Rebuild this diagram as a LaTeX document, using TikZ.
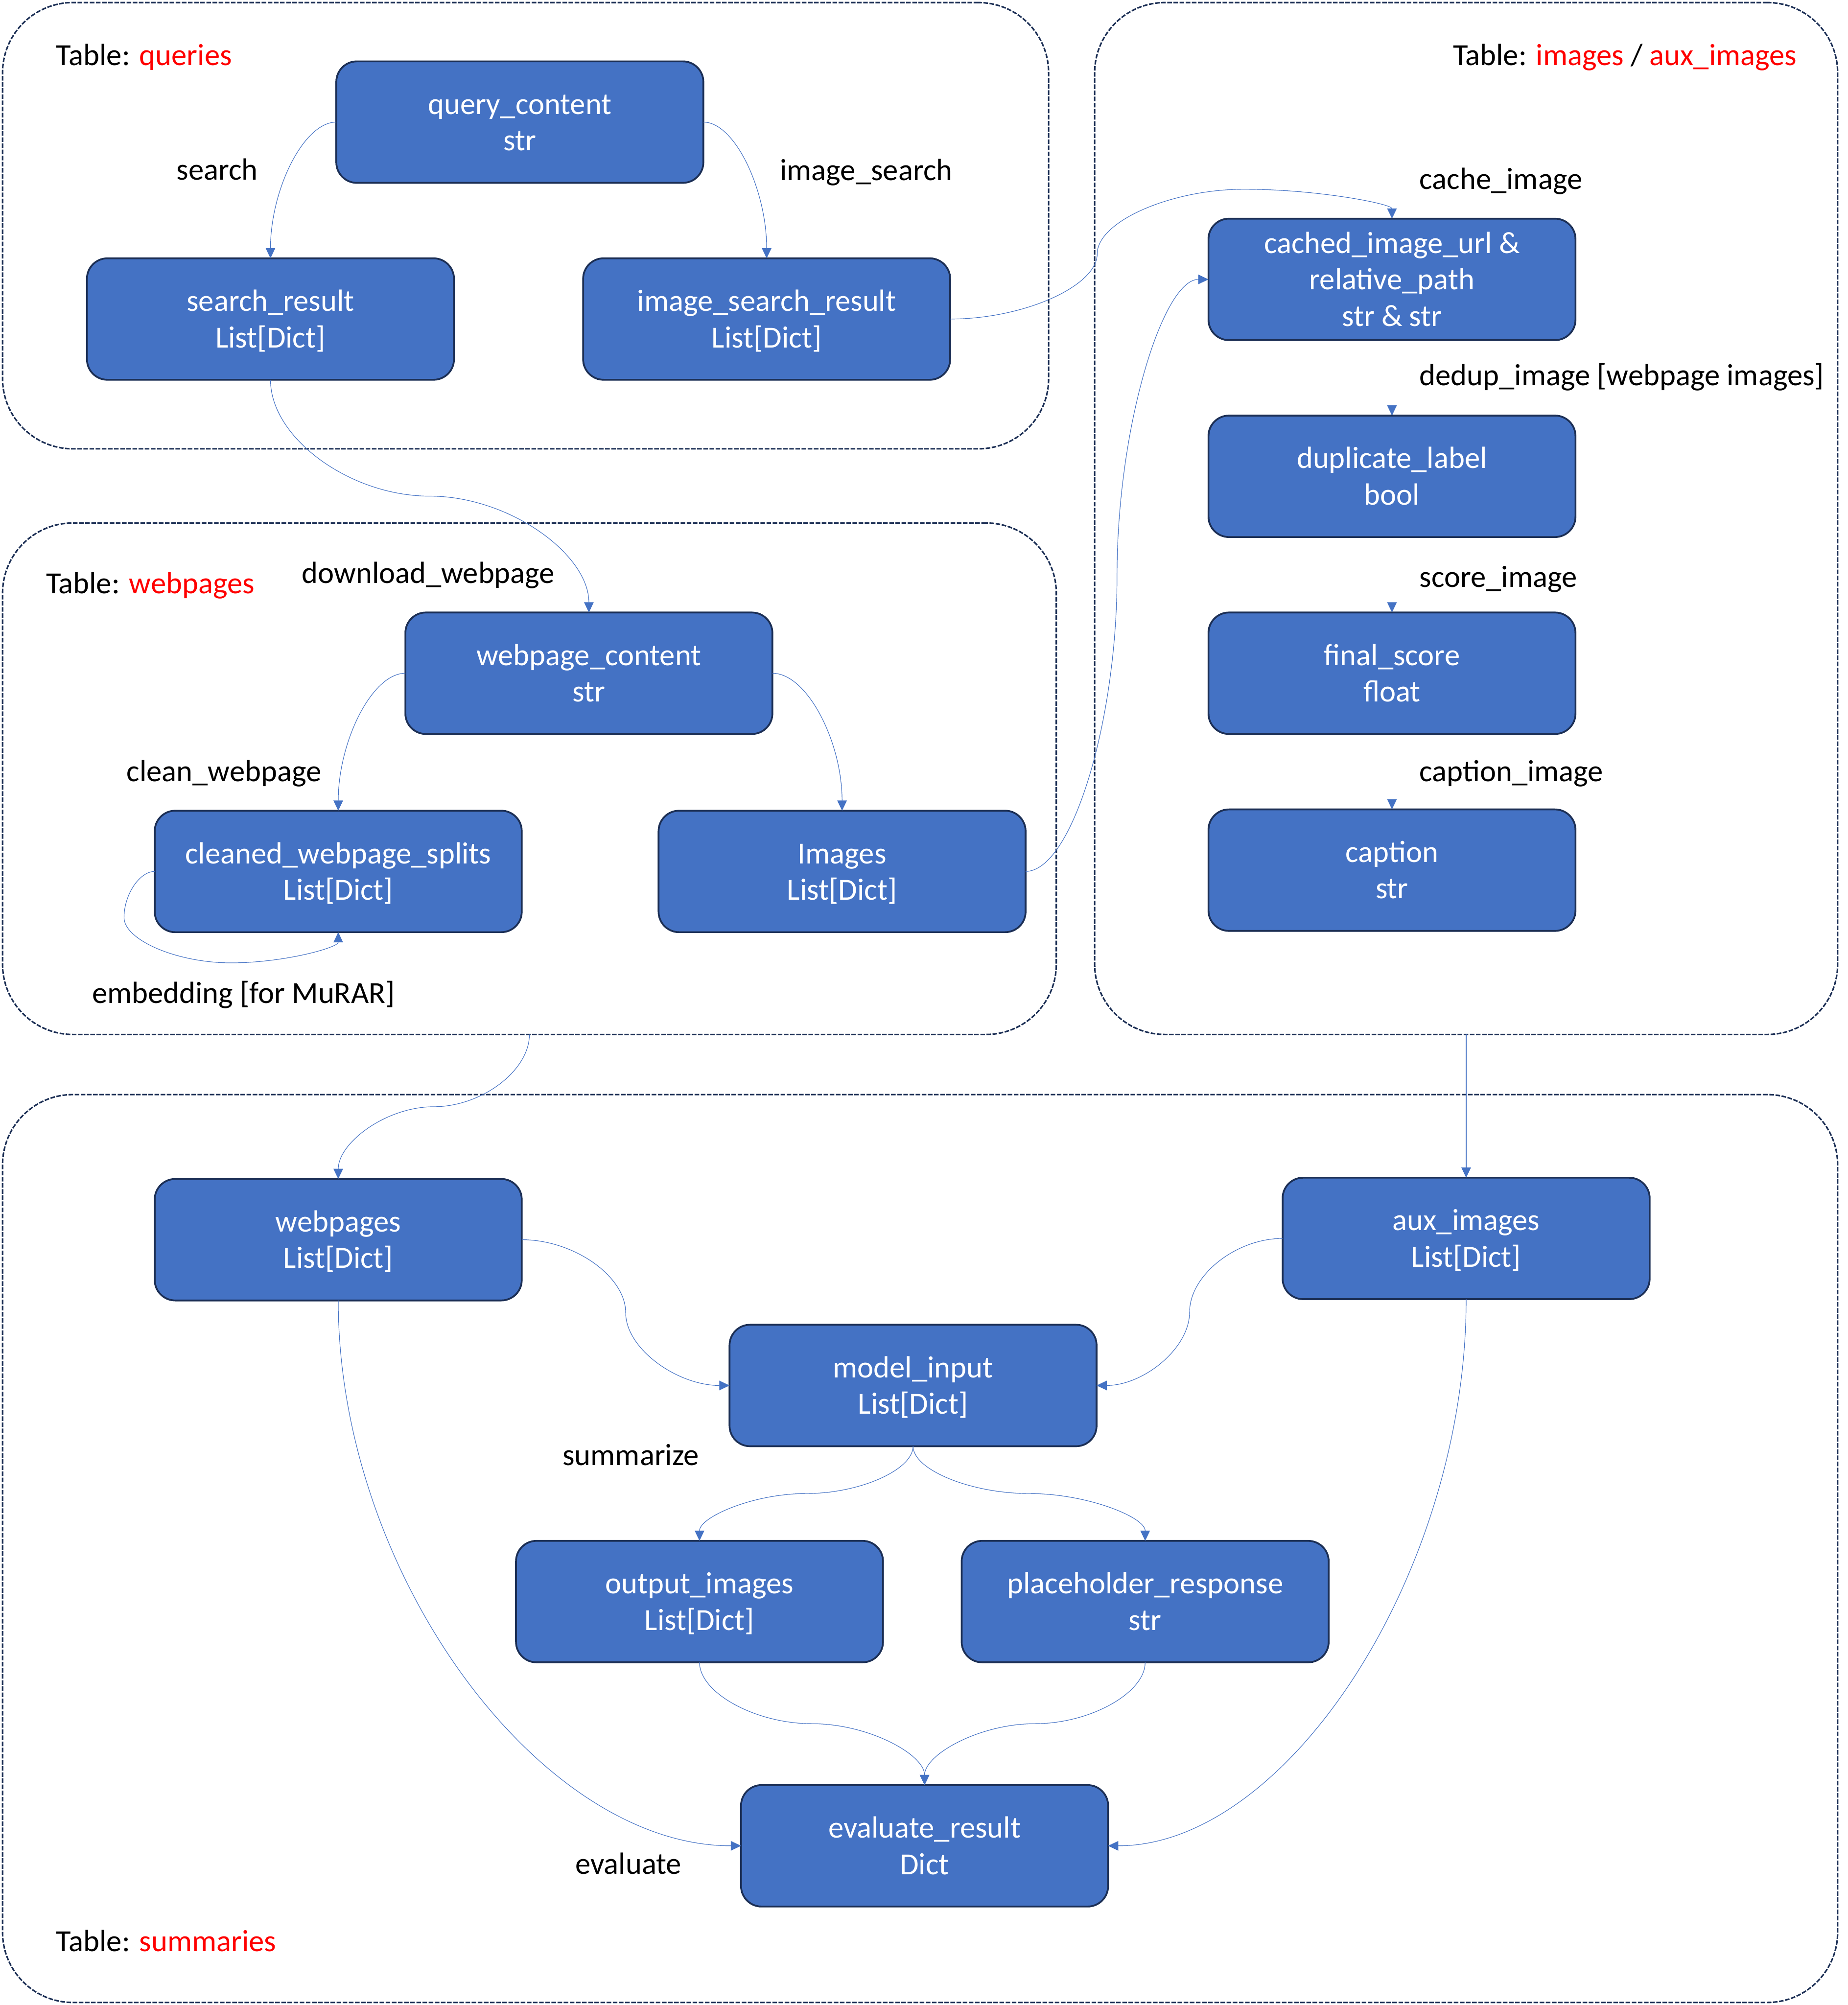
\documentclass[tikz,border=0pt]{standalone}
\usepackage{fontspec}
\setmainfont{Carlito}
\usetikzlibrary{arrows.meta,calc}
\definecolor{boxblue}{HTML}{4472C4}
\definecolor{edgenavy}{HTML}{1C2F55}
\definecolor{tred}{HTML}{FF0000}
\newcommand{\bst}{\rule[-6.2pt]{0pt}{28.5pt}}
\newcommand{\lblfont}{\fontsize{24}{28.5}\selectfont}
\begin{document}
\begin{tikzpicture}[x=1pt,y=-1pt,
  group/.style={draw=edgenavy, line width=1.2pt, dash pattern=on 3.6pt off 1.2pt, rounded corners=55pt, rectangle, inner sep=0pt, outer sep=0pt},
  box/.style={draw=edgenavy, line width=1.4pt, fill=boxblue, rounded corners=16pt, rectangle, minimum width=287pt, minimum height=95pt, inner sep=0pt, outer sep=0pt, align=center, text=white, font=\lblfont},
  lab/.style={font=\lblfont, inner sep=0pt, outer sep=0pt, anchor=base west},
  conn/.style={draw=boxblue, line width=0.45pt, -{Triangle[length=8pt,width=7.5pt]}},
  hv/.style={to path={let \p1=(\tikztostart), \p2=(\tikztotarget) in .. controls ({(\x1+\x2)/2},\y1) and (\x2,{(\y1+\y2)/2}) .. (\tikztotarget)}},
  vh/.style={to path={let \p1=(\tikztostart), \p2=(\tikztotarget) in .. controls (\x1,{(\y1+\y2)/2}) and ({(\x1+\x2)/2},\y2) .. (\tikztotarget)}},
  vv/.style={to path={let \p1=(\tikztostart), \p2=(\tikztotarget), \p3=({(\x1+\x2)/2},{(\y1+\y2)/2}) in .. controls (\x1,{(\y1+\y3)/2}) and ({(\x1+\x3)/2},\y3) .. (\p3) .. controls ({(\x3+\x2)/2},\y3) and (\x2,{(\y3+\y2)/2}) .. (\tikztotarget)}},
  hh/.style={to path={let \p1=(\tikztostart), \p2=(\tikztotarget), \p3=({(\x1+\x2)/2},{(\y1+\y2)/2}) in .. controls ({(\x1+\x3)/2},\y1) and (\x3,{(\y1+\y3)/2}) .. (\p3) .. controls (\x3,{(\y3+\y2)/2}) and ({(\x3+\x2)/2},\y2) .. (\tikztotarget)}},
]
\useasboundingbox (0,0) rectangle (1445,1568);

% groups
\node[group, minimum width=818pt, minimum height=349pt] (gq) at (411,176.5) {};
\node[group, minimum width=824pt, minimum height=400pt] (gw) at (414,609) {};
\node[group, minimum width=581pt, minimum height=807pt] (gi) at (1146.5,405.5) {};
\node[group, minimum width=1435pt, minimum height=710pt] (gs) at (719.5,1211) {};

% boxes
\node[box] (qc) at (406.5,95.5) {\bst query\_content\\str\bst};
\node[box] (sr) at (211.5,249.5) {\bst search\_result\\List[Dict]\bst};
\node[box] (isr) at (599.5,249.5) {\bst image\_search\_result\\List[Dict]\bst};
\node[box] (wc) at (460.5,526.5) {\bst webpage\_content\\str\bst};
\node[box] (cws) at (264.5,681.5) {\bst cleaned\_webpage\_splits\\List[Dict]\bst};
\node[box] (img) at (658.5,681.5) {\bst Images\\List[Dict]\bst};
\node[box] (cc) at (1088.5,218.5) {\bst cached\_image\_url \&\\relative\_path\\str \& str\bst};
\node[box] (dl) at (1088.5,372.5) {\bst duplicate\_label\\bool\bst};
\node[box] (fs) at (1088.5,526.5) {\bst final\_score\\float\bst};
\node[box] (cap) at (1088.5,680.5) {\bst caption\\str\bst};
\node[box] (wp) at (264.5,969.5) {\bst webpages\\List[Dict]\bst};
\node[box] (aux) at (1146.5,968.5) {\bst aux\_images\\List[Dict]\bst};
\node[box] (mi) at (714,1083.5) {\bst model\_input\\List[Dict]\bst};
\node[box] (oi) at (547,1252.5) {\bst output\_images\\List[Dict]\bst};
\node[box] (pr) at (895.5,1252.5) {\bst placeholder\_response\\str\bst};
\node[box] (er) at (723,1443.5) {\bst evaluate\_result\\Dict\bst};

% labels
\node[lab] (tq) at (44,51) {Table: \textcolor{tred}{queries}};
\node[lab] (lsearch) at (138,140.5) {search};
\node[lab] (limgsearch) at (610,141) {image\_search};
\node[lab, anchor=base east] (ti) at (1405,51) {Table: \textcolor{tred}{images} / \textcolor{tred}{aux\_images}};
\node[lab] (lcache) at (1110,148) {cache\_image};
\node[lab] (ldedup) at (1110,301.5) {dedup\_image [webpage images]};
\node[lab] (lscore) at (1110,459) {score\_image};
\node[lab] (lcaption) at (1110,611) {caption\_image};
\node[lab] (tw) at (36,464) {Table: \textcolor{tred}{webpages}};
\node[lab] (ldown) at (236,456) {download\_webpage};
\node[lab] (lclean) at (99,611) {clean\_webpage};
\node[lab] (lembed) at (72,784.5) {embedding [for MuRAR]};
\node[lab] (lsum) at (440,1146) {summarize};
\node[lab] (leval) at (450,1465.5) {evaluate};
\node[lab] (ts) at (44,1526) {Table: \textcolor{tred}{summaries}};

% connectors
\draw[conn] (qc.west) to[hv] (sr.north);
\draw[conn] (qc.east) to[hv] (isr.north);
\coordinate (k1) at (858,198.5);
\coordinate (k2) at (973,148);
\draw[conn] (isr.east) .. controls +(57.5,0) and +(0,25.25) .. (k1) .. controls +(0,-25.25) and +(-57.5,0) .. (k2) .. controls +(57.5,0) and +(0,-11.5) .. (cc.north);
\draw[conn] (img.east) to[hh] (cc.west);
\draw[conn] (sr.south) to[vv] (wc.north);
\draw[conn] (wc.west) to[hv] (cws.north);
\draw[conn] (wc.east) to[hv] (img.north);
\coordinate (l1) at (97,717.5);
\coordinate (l2) at (180.5,753);
\draw[conn] (cws.west) .. controls +(-12,0) and +(0,-17.75) .. (l1) .. controls +(0,17.75) and +(-41.75,0) .. (l2) .. controls +(41.75,0) and +(0,12) .. (cws.south);
\draw[conn] (cc.south) -- (dl.north);
\draw[conn] (dl.south) -- (fs.north);
\draw[conn] (fs.south) -- (cap.north);
\draw[conn] (gw.south) to[vv] (wp.north);
\draw[conn] (gi.south) -- (aux.north);
\draw[conn] (wp.east) to[hh] (mi.west);
\draw[conn] (aux.west) to[hh] (mi.east);
\draw[conn] (mi.south) to[vv] (oi.north);
\draw[conn] (mi.south) to[vv] (pr.north);
\draw[conn] (oi.south) to[vv] (er.north);
\draw[conn] (pr.south) to[vv] (er.north);
\draw[conn] (wp.south) to[vh] (er.west);
\draw[conn] (aux.south) to[vh] (er.east);
\end{tikzpicture}
\end{document}
